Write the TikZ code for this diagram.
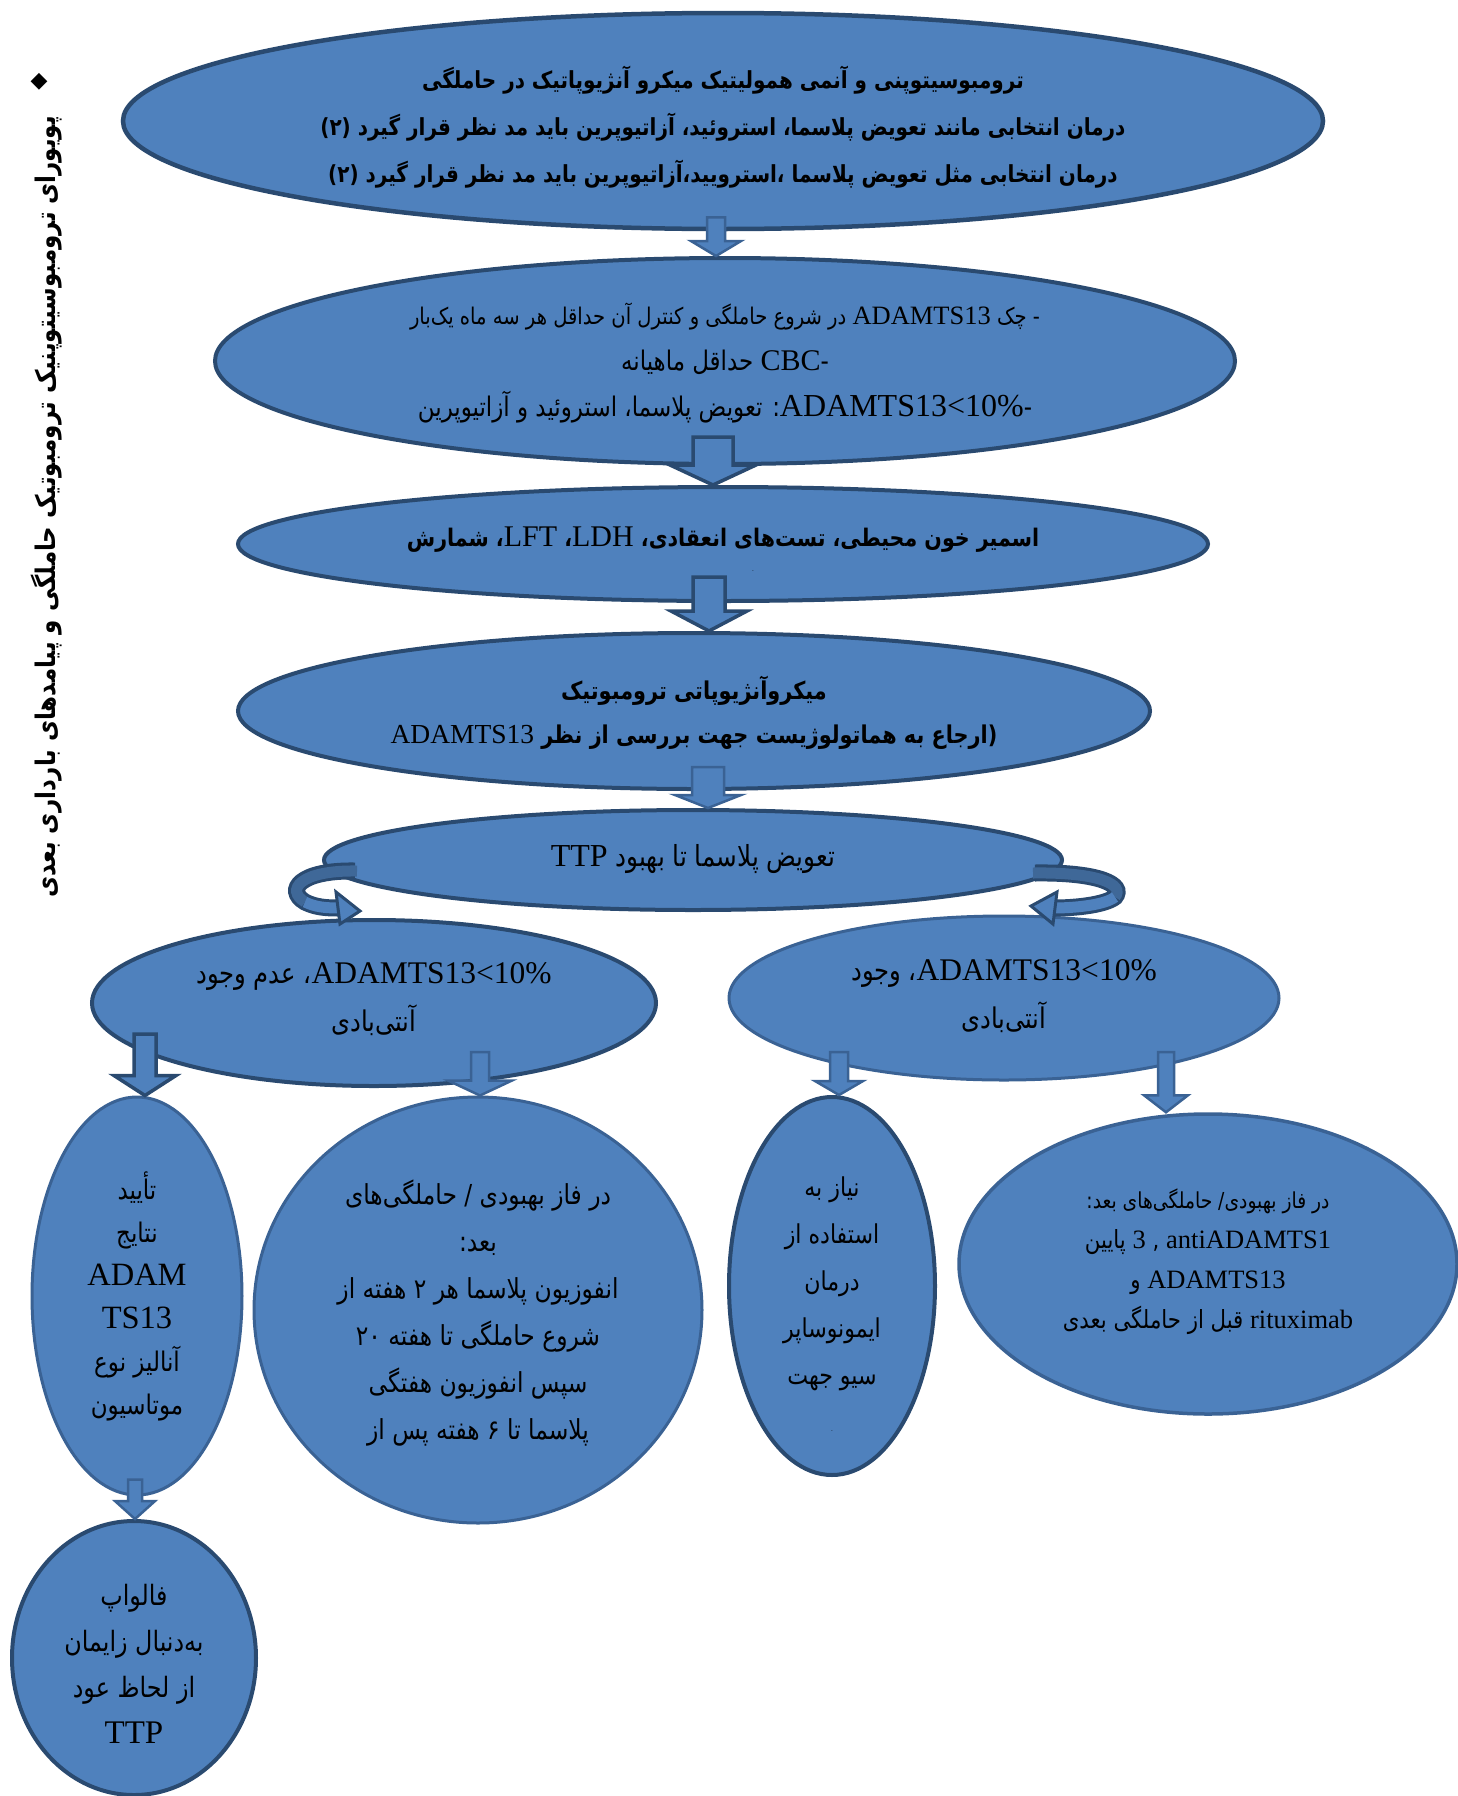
\documentclass[tikz,border=0pt]{standalone}
\usepackage{fontspec}
\usetikzlibrary{shapes.geometric,calc}
\TeXXeTstate=1
\newfontfamily\fa[Script=Arabic, FakeStretch=0.85]{DejaVu Sans}
\newfontfamily\lat{Liberation Serif}
\newfontfamily\dv{DejaVu Sans}
\newcommand\Rline[1]{{\fa\beginR #1\endR}}
\newcommand\LT[2][28]{{\lat\mdseries\fontsize{#1}{#1}\selectfont\beginL #2\endL}}
\newcommand\fsz[2]{\fontsize{#1}{#2}\selectfont}
\definecolor{fillb}{HTML}{4F81BD}
\definecolor{edged}{HTML}{2A4A70}
\definecolor{edgel}{HTML}{3A6294}
\definecolor{bandd}{HTML}{3F6898}
\tikzset{
  blob/.style={ellipse, fill=fillb, draw=edged, line width=4pt, inner sep=0pt},
  blobl/.style={blob, draw=edgel, line width=3pt},
  txt/.style={align=center, inner sep=0pt, text=black},
  barr/.style={fill=fillb, draw=edged, line width=3.5pt, line join=miter},
  barrl/.style={fill=fillb, draw=edgel, line width=2.5pt, line join=miter},
}
% #1 style, #2 start coordinate, #3 target anchor, #4 shaft half width, #5 head half width, #6 head length
\newcommand\barrow[6]{%
  \draw[#1] let \p1=(#2), \p2=(#3) in
    (\x1-#4pt,\y1) -- (\x1+#4pt,\y1) -- (\x1+#4pt,\y2+#6pt) -- (\x1+#5pt,\y2+#6pt)
    -- (\x1,\y2) -- (\x1-#5pt,\y2+#6pt) -- (\x1-#4pt,\y2+#6pt) -- cycle;}
\begin{document}
\begin{tikzpicture}[x=1pt,y=-1pt]
\useasboundingbox (0,0) rectangle (1457,1796);

% side title
\node[text=black] (bul) at (39,82) {\dv\fsz{22}{22}◆};
\node[txt, rotate=90, font=\fsz{27}{27}\bfseries] (side) at (47,507)
  {\Rline{پویورای ترومبوسیتوپنیک ترومبوتیک حاملگی و پیامدهای بارداری بعدی}};

% ellipses
\node[blob, minimum width=1200, minimum height=216, line width=4.5pt] (E1) at (723,121) {};
\node[blob, minimum width=1020, minimum height=206] (E2) at (725,361) {};
\node[blob, minimum width=970, minimum height=114] (E3) at (723,544) {};
\node[blob, minimum width=912, minimum height=156] (E4) at (694,711) {};
\node[blob, minimum width=738, minimum height=100] (E5) at (693,860) {};
\node[blob, minimum width=564, minimum height=166] (E6) at (374,1003) {};
\node[blobl, minimum width=550, minimum height=164] (E7) at (1004,998) {};
\node[blobl, minimum width=210, minimum height=398] (E8) at (137,1296) {};
\node[blobl, minimum width=448, minimum height=426] (E9) at (478,1310) {};
\node[blob, minimum width=206, minimum height=378] (E10) at (832,1286) {};
\node[blobl, minimum width=498, minimum height=300, line width=3.5pt] (E11) at (1208,1264) {};
\node[blob, minimum width=244, minimum height=274] (E12) at (134,1658) {};

% texts
\node[txt, font=\fsz{23.5}{47}\bfseries] (E1t) at ($(E1)+(0,6)$)
 {\Rline{ترومبوسیتوپنی و آنمی همولیتیک میکرو آنژیوپاتیک در حاملگی}\\
  \Rline{درمان انتخابی مانند تعویض پلاسما، استروئید، آزاتیوپرین باید مد نظر قرار گیرد (۲)}\\
  \Rline{درمان انتخابی مثل تعویض پلاسما ،استرویید،آزاتیوپرین باید مد نظر قرار گیرد (۲)}};
\node[txt, font=\fsz{27}{46}] (E2t) at ($(E2)+(0,2)$)
 {\Rline{\fsz{23}{46}- چک \LT[26.5]{ADAMTS13} در شروع حاملگی و کنترل آن حداقل هر سه ماه یک‌بار}\\
  \Rline{-\LT[30]{CBC} حداقل ماهیانه}\\
  \Rline{-\LT[32]{ADAMTS13<10\%}: تعویض پلاسما، استروئید و آزاتیوپرین}};
\node[txt, font=\fsz{24.2}{40}\bfseries] (E3t) at ($(E3)+(0,-4)$)
 {\Rline{اسمیر خون محیطی، تست‌های انعقادی، \LT[30]{LDH}، \LT[30]{LFT}، شمارش}};
\node[txt, font=\fsz{8}{8}] (E3d) at ($(E3)+(30,27)$) {.};
\node[txt, font=\fsz{24.5}{44}\bfseries] (E4t) at ($(E4)+(0,2)$)
 {\Rline{میکروآنژیوپاتی ترومبوتیک}\\
  \Rline{(ارجاع به هماتولوژیست جهت بررسی از نظر \LT[27.5]{ADAMTS13}}};
\node[txt, font=\fsz{29}{40}] (E5t) at ($(E5)+(0,-1)$)
 {\Rline{تعویض پلاسما تا بهبود \LT[32]{TTP}}};
\node[txt, font=\fsz{28.5}{48}] (E6t) at ($(E6)+(0,-4)$)
 {\Rline{\LT[31.5]{ADAMTS13<10\%}، عدم وجود}\\ \Rline{آنتی‌بادی}};
\node[txt, font=\fsz{28.5}{48}] (E7t) at ($(E7)+(0,-2)$)
 {\Rline{\LT[31.5]{ADAMTS13<10\%}، وجود}\\ \Rline{آنتی‌بادی}};
\node[txt, font=\fsz{27}{43}] (E8t) at ($(E8)+(0,0)$)
 {\Rline{تأیید}\\ \Rline{نتایج}\\ \Rline{\LT[32.5]{ADAM}}\\ \Rline{\LT[32.5]{TS13}}\\
  \Rline{آنالیز نوع}\\ \Rline{موتاسیون}};
\node[txt, font=\fsz{27.5}{47}] (E9t) at ($(E9)+(0,3)$)
 {\Rline{در فاز بهبودی / حاملگی‌های}\\ \Rline{بعد:}\\
  \Rline{انفوزیون پلاسما هر ۲ هفته از}\\ \Rline{شروع حاملگی تا هفته ۲۰}\\
  \Rline{سپس انفوزیون هفتگی}\\ \Rline{پلاسما تا ۶ هفته پس از}};
\node[txt, font=\fsz{26}{47}] (E10t) at ($(E10)+(0,18)$)
 {\Rline{نیاز به}\\ \Rline{استفاده از}\\ \Rline{درمان}\\ \Rline{ایمونوساپر}\\
  \Rline{سیو جهت}\\ {\fsz{8}{8}.}};
\node[txt, font=\fsz{25}{40}] (E11t) at ($(E11)+(0,-2)$)
 {\Rline{\fsz{22}{40}در فاز بهبودی/ حاملگی‌های بعد:}\\
  \Rline{\LT[26.5]{antiADAMTS1}\ , \LT[26.5]{3} پایین}\\
  \Rline{\LT[26.5]{ADAMTS13} و}\\
  \Rline{\LT[26.5]{rituximab} قبل از حاملگی بعدی}};
\node[txt, font=\fsz{28}{46}] (E12t) at ($(E12)+(0,6)$)
 {\Rline{فالواپ}\\ \Rline{به‌دنبال زایمان}\\ \Rline{از لحاظ عود}\\ \Rline{\LT[33]{TTP}}};

% block arrows
\coordinate (a1) at ($(E1.south)+(-7,-14)$);
\coordinate (a2) at ($(E2.south)+(-12,-29)$);
\coordinate (a3) at ($(E3.south)+(-14,-26)$);
\coordinate (a4) at ($(E4.south)+(14,-24)$);
\coordinate (a5) at ($(E6)+(-229,31)$);
\coordinate (a6) at ($(E6)+(106,49)$);
\coordinate (a7) at ($(E7)+(-165,54)$);
\coordinate (a8) at ($(E7)+(162,54)$);
\coordinate (a9) at ($(E8.south)+(-2,-17)$);
\barrow{barrl}{a1}{E2.north}{9}{25}{15}
\barrow{barr}{a2}{E3.north}{20}{43}{20}
\barrow{barr}{a3}{E4.north}{16}{38}{20}
\barrow{barrl}{a4}{E5.north}{16}{33}{13}
\barrow{barr}{a5}{E8.north}{11}{31}{20}
\barrow{barrl}{a6}{E9.north}{9}{32}{15}
\barrow{barrl}{a7}{E10.north}{9}{24}{14}
\barrow{barrl}{a8}{E11.north}{8}{22}{17}
\barrow{barrl}{a9}{E12.north}{7}{20}{18}

% curved arrows from E5 to E6 / E7
\begin{scope}[shift={(E5.center)}]
  \draw[edged, line width=17pt] (-338,11) .. controls (-393,10) and (-408,30) .. (-388,42)
     .. controls (-378,47) and (-368,48) .. (-355,48);
  \draw[bandd, line width=11pt] (-336,11) .. controls (-393,10) and (-408,30) .. (-388,42);
  \draw[fillb, line width=11pt] (-388,42) .. controls (-378,47) and (-368,48) .. (-353,48);
  \filldraw[fill=fillb, draw=edged, line width=3pt, line join=miter]
     (-357,32) -- (-333,51) -- (-353,64) -- cycle;
  \draw[edged, line width=17pt] (342,13) .. controls (407,12) and (432,25) .. (422,37)
     .. controls (412,45) and (382,48) .. (362,48);
  \draw[bandd, line width=11pt] (340,13) .. controls (407,12) and (432,25) .. (422,37);
  \draw[fillb, line width=11pt] (422,37) .. controls (412,45) and (382,48) .. (360,48);
  \filldraw[fill=fillb, draw=edged, line width=3pt, line join=miter]
     (364,32) -- (338,46) -- (360,64) -- cycle;
\end{scope}
\end{tikzpicture}
\end{document}
